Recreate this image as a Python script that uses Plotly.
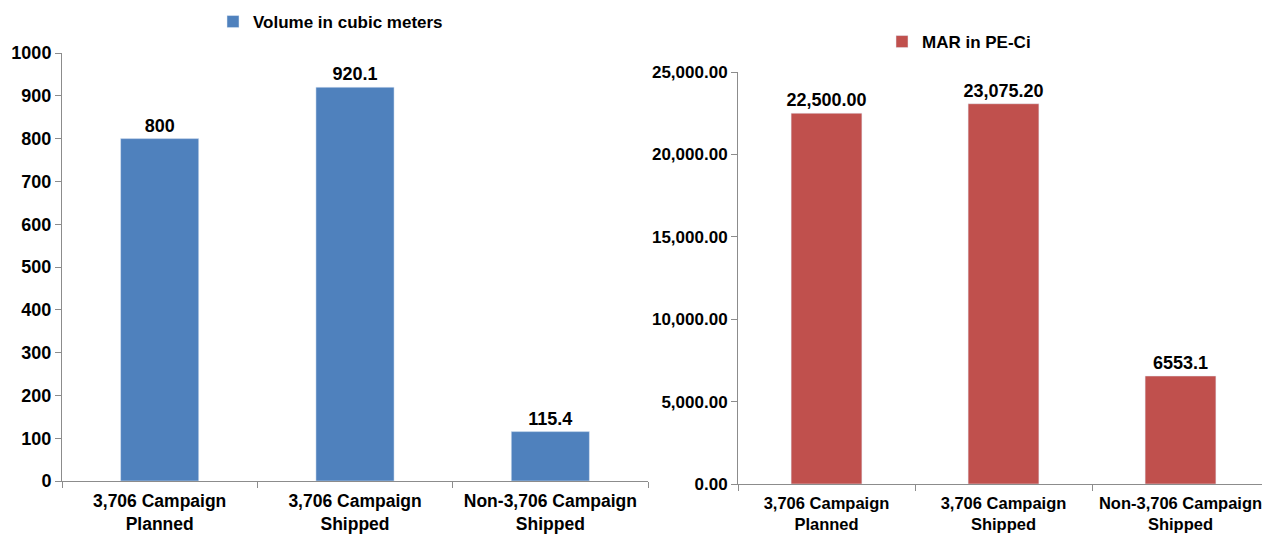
import plotly.graph_objects as go

categories = ["3,706 Campaign<br>Planned", "3,706 Campaign<br>Shipped", "Non-3,706 Campaign<br>Shipped"]
volume = [800, 920.1, 115.4]
volume_labels = ["800", "920.1", "115.4"]
mar = [22500.00, 23075.20, 6553.1]
mar_labels = ["22,500.00", "23,075.20", "6553.1"]
left_ticks = list(range(0, 1001, 100))
right_ticks = list(range(0, 25001, 5000))
right_ticktext = [f"{v:,.2f}" for v in right_ticks]

FONT = "Liberation Sans, Arial, sans-serif"
W, H = 1262, 535


def bold(size):
    return dict(size=size, color="black", family=FONT, weight="bold")


fig = go.Figure()
fig.add_trace(go.Bar(
    x=categories, y=volume, name="Volume in cubic meters",
    marker_color="#4F81BD", text=volume_labels, textposition="outside",
    constraintext="none", textfont=bold(18), cliponaxis=False,
    xaxis="x", yaxis="y", legend="legend",
))
fig.add_trace(go.Bar(
    x=categories, y=mar, name="MAR in PE-Ci",
    marker_color="#C0504D", text=mar_labels, textposition="outside",
    constraintext="none", textfont=bold(18), cliponaxis=False,
    xaxis="x2", yaxis="y2", legend="legend2",
))

axis_common = dict(showgrid=False, zeroline=False, showline=True, linecolor="#8c8c8c",
                   linewidth=1, ticks="outside", tickcolor="#8c8c8c", ticklen=6,
                   automargin=False, tickangle=0)

fig.update_layout(
    width=W, height=H, margin=dict(l=0, r=0, t=0, b=0, autoexpand=False),
    paper_bgcolor="white", plot_bgcolor="white",
    font=dict(family=FONT, color="black"),
    bargap=0.6, showlegend=True,
    xaxis=dict(domain=[62 / W, 648 / W], anchor="y", tickson="boundaries",
               range=[-0.5, 2.5], tickfont=bold(17.5), ticklabelstandoff=4,
               **axis_common),
    yaxis=dict(domain=[(H - 481) / H, (H - 53) / H], anchor="x", range=[0, 1000],
               tickvals=left_ticks, tickfont=bold(18), **axis_common),
    xaxis2=dict(domain=[738 / W, 1.0], anchor="y2", tickson="boundaries",
                range=[-0.5, 2.5 - 7 / 177], tickfont=bold(16.5), ticklabelstandoff=4,
                **axis_common),
    yaxis2=dict(domain=[(H - 484) / H, (H - 72) / H], anchor="x2", range=[0, 25000],
                tickvals=right_ticks, ticktext=right_ticktext, tickfont=bold(17),
                **axis_common),
    legend=dict(x=213 / W, y=1 - 22 / H, xanchor="left", yanchor="middle",
                font=bold(17), bgcolor="rgba(0,0,0,0)", itemwidth=30),
    legend2=dict(x=882 / W, y=1 - 42 / H, xanchor="left", yanchor="middle",
                 font=bold(17), bgcolor="rgba(0,0,0,0)", itemwidth=30),
)

fig.write_html("out.html")
